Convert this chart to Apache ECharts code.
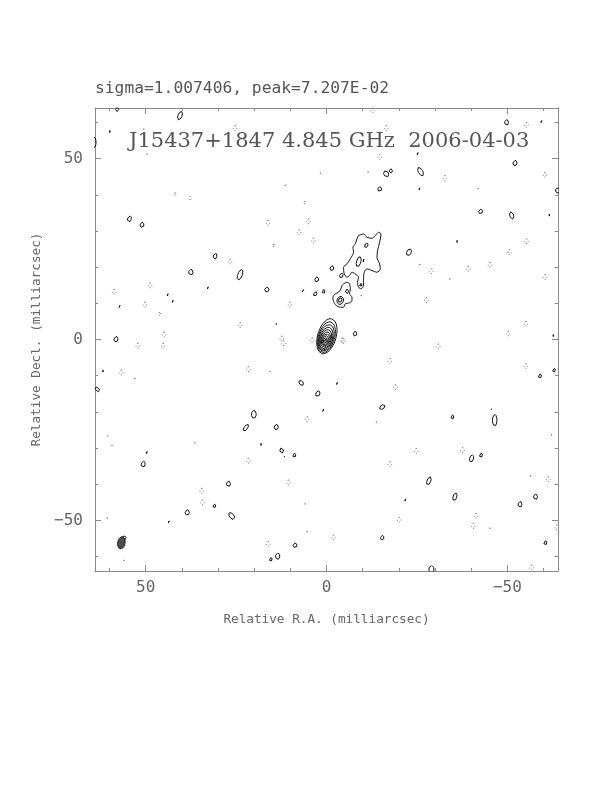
<!DOCTYPE html>
<html><head><meta charset="utf-8">
<script src="https://cdn.jsdelivr.net/npm/echarts@6/dist/echarts.min.js"></script>
<style>html,body{margin:0;padding:0;background:#fff}#c{width:612px;height:792px}</style>
</head><body><div id="c"></div>
<script>
// ---- axis ranges and ticks (milliarcsec) ----
const raMin = -64, raMax = 64;
const decMin = -64, decMax = 64;
const majorTicks = [-50, 0, 50];
const minorTicks = [-60, -50, -40, -30, -20, -10, 0, 10, 20, 30, 40, 50, 60];
const titleText = 'sigma=1.007406, peak=7.207E-02';
const mapLabel = 'J15437+1847 4.845 GHz  2006-04-03';
const xName = 'Relative R.A. (milliarcsec)';
const yName = 'Relative Decl. (milliarcsec)';

// ---- core: nested contours [ra, dec, semiMajor, semiMinor, tiltDeg] ----
const coreContours = [
  [-0.10, 0.90, 5.0, 2.55, 16], [0.00, 0.65, 4.35, 2.25, 16], [0.08, 0.45, 3.75, 2.0, 17],
  [0.15, 0.25, 3.2, 1.75, 17], [0.22, 0.10, 2.7, 1.5, 18], [0.27, -0.02, 2.2, 1.25, 18],
  [0.31, -0.12, 1.75, 1.0, 18], [0.34, -0.20, 1.3, 0.76, 18], [0.36, -0.26, 0.85, 0.5, 18],
  [0.37, -0.28, 0.45, 0.28, 18]
];

// ---- jet outer contours [ra, dec] ----
const jetUpper = [
  [-8.86, 28.73], [-10.25, 29.20], [-11.19, 28.26], [-12.58, 27.98], [-13.49, 28.73],
  [-14.40, 29.64], [-15.07, 29.20], [-14.68, 26.88], [-14.13, 24.59], [-13.96, 22.73],
  [-14.68, 20.91], [-14.88, 19.53], [-13.96, 18.59], [-12.58, 19.06], [-11.19, 19.53],
  [-10.44, 18.59], [-10.25, 16.77], [-10.25, 14.92], [-9.53, 14.01], [-8.86, 14.45],
  [-8.59, 15.83], [-8.86, 17.21], [-7.95, 18.15], [-7.04, 18.59], [-6.37, 17.68],
  [-5.65, 17.21], [-4.90, 18.15], [-4.71, 19.97], [-5.65, 20.91], [-6.57, 22.29],
  [-7.48, 24.12], [-7.31, 25.50], [-7.95, 26.44], [-8.42, 27.82], [-8.86, 28.73]
];
const jetLower = [
  [-4.71, 15.39], [-5.65, 15.83], [-6.37, 15.39], [-6.57, 14.01], [-6.37, 12.62],
  [-7.04, 11.69], [-7.04, 10.77], [-6.37, 10.14], [-5.18, 9.86], [-4.71, 8.92],
  [-3.80, 8.92], [-2.69, 9.39], [-1.94, 10.50], [-1.77, 11.69], [-2.41, 12.62],
  [-3.32, 13.07], [-3.99, 14.01], [-4.27, 14.92], [-4.71, 15.39]
];
// jet inner contours [ra, dec, semiMajor, semiMinor, tiltDeg]
const jetKnots = [
  [-11.0, 26.0, 0.65, 0.45, 30], [-8.9, 21.5, 1.45, 0.6, 15], [-10.3, 21.6, 0.65, 0.14, 0],
  [-9.5, 15.1, 0.45, 0.4, 0], [-5.65, 13.3, 0.65, 0.45, 0], [-3.8, 10.8, 1.15, 0.9, 20],
  [-3.8, 10.9, 0.65, 0.5, 20]
];

// ---- positive noise contours (solid) ----
const posContours = [
  [40.5, 61.9, 1.25, 0.55, 20], [57.9, 63.6, 0.6, 0.45, 0], [59.9, 57.5, 0.3, 0.25, 0],
  [64.6, 54.5, 1.7, 0.9, 0], [54.5, 33.3, 0.9, 0.5, 15], [51.0, 31.7, 0.75, 0.55, 0],
  [30.8, 23.0, 0.85, 0.5, 15], [37.5, 18.6, 0.78, 0.6, 0], [23.9, 17.9, 1.5, 0.62, 20],
  [32.7, 14.2, 0.35, 0.3, 0], [16.5, 13.8, 0.66, 0.6, 0], [43.8, 12.3, 0.35, 0.3, 0],
  [42.4, 10.5, 0.35, 0.3, 0], [57.1, 9.1, 0.35, 0.3, 0], [2.7, 16.6, 0.72, 0.54, 0],
  [6.4, 13.4, 0.4, 0.3, 0], [3.1, 12.6, 0.66, 0.42, 25], [0.8, 13.3, 0.54, 0.42, 0],
  [58.2, 0.1, 0.72, 0.6, 0], [13.9, 4.3, 0.25, 0.25, 0], [-1.5, 19.7, 0.72, 0.54, 0],
  [-4.1, 17.7, 0.72, 0.48, 10], [-7.9, 1.6, 0.72, 0.48, 0],
  [-49.8, 60.0, 0.78, 0.54, 0], [-59.5, 60.2, 0.35, 0.3, 0], [-52.1, 48.8, 0.72, 0.6, 0],
  [-25.3, 51.3, 0.35, 0.3, 0], [-16.5, 45.8, 0.9, 0.66, -30], [-17.8, 46.6, 0.6, 0.48, 0],
  [-26.0, 46.4, 1.3, 0.6, -30], [-14.7, 41.6, 0.66, 0.54, 0], [-25.8, 41.6, 0.35, 0.3, 0],
  [-64.0, 41.2, 0.72, 0.72, 0], [-42.6, 35.4, 0.66, 0.54, 0], [-51.2, 34.3, 1.05, 0.54, -15],
  [-61.6, 34.4, 0.3, 0.3, 0], [-36.1, 27.1, 0.3, 0.3, 0], [-22.8, 24.1, 1.0, 0.6, 25],
  [-62.7, 1.1, 0.3, 0.3, 0],
  [63.3, -13.8, 0.72, 0.54, -40], [61.8, -8.7, 0.3, 0.25, 0], [7.0, -12.0, 0.78, 0.54, -40],
  [2.4, -15.0, 0.84, 0.54, 20], [0.8, -19.6, 0.35, 0.3, 0], [20.1, -20.7, 1.1, 0.66, 0],
  [22.3, -24.4, 1.1, 0.48, 35], [13.9, -24.2, 0.72, 0.6, 0], [18.1, -29.0, 0.3, 0.25, 0],
  [12.4, -30.7, 0.72, 0.54, -20], [8.9, -32.0, 0.54, 0.48, 0], [11.6, -32.4, 0.2, 0.15, 0],
  [49.6, -31.3, 0.35, 0.3, 0], [50.7, -34.5, 0.9, 0.54, 10], [27.1, -39.9, 0.78, 0.54, 0],
  [31.0, -46.0, 0.48, 0.42, 0], [38.5, -47.8, 0.72, 0.6, 0], [26.2, -48.8, 1.1, 0.62, -40],
  [43.5, -50.5, 0.35, 0.3, 0], [8.7, -56.9, 0.66, 0.54, 0], [13.5, -59.9, 0.9, 0.6, 0],
  [15.4, -60.8, 0.48, 0.42, 0], [56.0, -55.0, 0.72, 0.6, 20],
  [-3.0, -12.2, 0.35, 0.3, 0], [-15.4, -18.7, 0.84, 0.54, 60], [-34.8, -21.4, 0.54, 0.42, 0],
  [-46.5, -22.3, 1.6, 0.62, 0], [-45.6, -19.3, 0.2, 0.15, 0], [-59.0, -10.1, 0.54, 0.48, 0],
  [-62.9, -8.5, 0.48, 0.42, 0], [-40.1, -32.9, 1.0, 0.54, 15], [-42.7, -32.0, 0.54, 0.48, 0],
  [-28.3, -39.1, 1.2, 0.52, 20], [-35.5, -43.5, 1.1, 0.52, 15], [-21.9, -44.4, 0.35, 0.3, 0],
  [-57.8, -43.5, 0.78, 0.54, 0], [-53.5, -45.6, 0.78, 0.54, 0], [-15.4, -54.8, 0.66, 0.48, 0],
  [-60.5, -56.2, 0.54, 0.48, 0], [-29.0, -63.5, 1.0, 0.72, 0]
];

// ---- negative noise contours (dotted) [ra, dec, semiMajor, semiMinor] ----
const negContours = [
  [25.3, 58.4, 0.8, 0.5], [50.5, 58.0, 0.3, 0.3], [49.6, 51.1, 0.4, 0.3], [41.9, 40.2, 0.4, 0.4],
  [37.7, 39.0, 0.6, 0.4], [11.4, 42.5, 0.3, 0.3], [16.2, 32.2, 0.8, 0.5], [5.0, 32.6, 0.8, 0.5],
  [7.6, 29.6, 0.8, 0.5], [3.6, 27.3, 0.8, 0.5], [6.1, 37.8, 0.4, 0.4], [1.7, 45.8, 0.3, 0.3],
  [26.7, 21.5, 0.8, 0.5], [14.7, 26.0, 0.4, 0.4], [58.7, 13.1, 0.8, 0.5], [48.8, 14.9, 0.8, 0.5],
  [50.2, 9.6, 0.8, 0.5], [46.1, 7.1, 0.5, 0.4], [23.9, 3.9, 0.8, 0.5], [10.1, 9.6, 0.8, 0.5],
  [44.9, 1.3, 0.8, 0.5], [12.4, 0.2, 0.8, 0.5], [4.0, -0.3, 0.8, 0.5], [-4.3, -0.3, 0.8, 0.5],
  [-12.8, 63.3, 0.8, 0.5], [-16.5, 58.4, 0.8, 0.5], [-55.3, 59.3, 0.8, 0.5], [-14.7, 50.4, 0.8, 0.5],
  [-11.5, 46.2, 0.3, 0.3], [-32.7, 44.6, 0.8, 0.5], [-60.4, 45.5, 0.8, 0.5], [-41.9, 41.6, 0.3, 0.3],
  [-55.3, 27.1, 0.8, 0.5], [-50.5, 24.1, 0.8, 0.5], [-29.0, 18.8, 0.8, 0.5], [-39.2, 19.5, 0.8, 0.5],
  [-45.2, 20.6, 0.8, 0.5], [-34.1, 16.6, 0.3, 0.3], [-60.4, 17.2, 0.8, 0.5], [-27.6, 10.8, 0.8, 0.5],
  [-55.1, 4.3, 0.8, 0.5], [-50.2, 1.6, 0.8, 0.5], [-9.6, 12.0, 0.3, 0.3], [-25.8, 20.6, 0.3, 0.3],
  [52.2, -1.8, 0.8, 0.5], [45.2, -1.8, 0.8, 0.5], [11.9, -1.1, 0.8, 0.5], [56.7, -9.2, 0.8, 0.5],
  [53.0, -10.9, 0.3, 0.3], [21.6, -8.3, 0.8, 0.5], [15.6, -9.0, 0.3, 0.3], [60.4, -26.7, 0.4, 0.3],
  [59.3, -29.5, 0.3, 0.3], [36.4, -28.7, 0.3, 0.3], [21.6, -33.6, 0.8, 0.5], [5.4, -22.1, 0.8, 0.5],
  [10.5, -39.6, 0.8, 0.5], [34.5, -41.9, 0.8, 0.5], [34.3, -45.1, 0.8, 0.5], [5.9, -45.6, 0.3, 0.3],
  [60.6, -49.5, 0.3, 0.3], [5.4, -53.2, 0.3, 0.3], [16.1, -56.6, 0.8, 0.5], [56.0, -61.2, 0.3, 0.3],
  [-4.7, -0.5, 0.8, 0.5], [-30.9, -2.0, 0.8, 0.5], [-17.5, -6.0, 0.8, 0.5], [-55.1, -7.4, 0.8, 0.5],
  [-19.1, -13.3, 0.8, 0.5], [-13.8, -23.0, 0.3, 0.3], [-24.8, -30.9, 0.8, 0.5], [-37.6, -30.6, 0.8, 0.5],
  [-17.5, -34.5, 0.8, 0.5], [-62.2, -26.5, 0.3, 0.3], [-56.4, -37.8, 0.3, 0.3], [-61.3, -38.7, 0.8, 0.5],
  [-41.3, -48.8, 0.8, 0.5], [-40.6, -51.6, 0.8, 0.5], [-45.2, -52.3, 0.3, 0.3], [-20.1, -49.9, 0.8, 0.5],
  [-1.9, -54.8, 0.8, 0.5], [-63.6, -52.0, 0.8, 0.5], [-56.7, -63.1, 0.8, 0.5]
];

// ---- restoring beam [ra, dec, semiMajor, semiMinor, tiltDeg] ----
const beam = [56.7, -56.2, 1.66, 1.0, 10];

// ellipse outline in data space (mas)
function ellipse(c, n) {
  const x0 = c[0], y0 = c[1], a = c[2], b = c[3], t = (c[4] || 0) * Math.PI / 180;
  const ux = -Math.sin(t), uy = Math.cos(t), vx = Math.cos(t), vy = Math.sin(t);
  const pts = [];
  for (let i = 0; i <= n; i++) {
    const th = 2 * Math.PI * i / n;
    const ca = Math.cos(th) * a, sb = Math.sin(th) * b;
    pts.push([x0 + ca * ux + sb * vx, y0 + ca * uy + sb * vy]);
  }
  return pts;
}

const solid = { color: '#111', width: 1 };
const dotted = { color: '#777', width: 1, type: [1, 2.2] };
function lineSeries(pts, style, smooth) {
  return { type: 'line', data: pts, showSymbol: false, symbol: 'none', smooth: smooth || false,
    lineStyle: style, silent: true, animation: false, clip: true, z: 3 };
}

const series = [];
coreContours.forEach(c => series.push(lineSeries(ellipse(c, 48), { color: '#1a1a1a', width: 1 })));
series.push(lineSeries(jetUpper, solid, 0.25));
series.push(lineSeries(jetLower, solid, 0.25));
jetKnots.forEach(c => series.push(lineSeries(ellipse(c, 28), solid)));
posContours.forEach(c => series.push(lineSeries(ellipse(c, 24), solid)));
negContours.forEach(c => series.push(lineSeries(ellipse(c, 16), dotted)));
series.push({
  type: 'custom', silent: true, animation: false, clip: true, z: 4,
  dimensions: ['ra', 'dec', 'a', 'b', 't'], encode: { x: 0, y: 1 },
  data: [beam],
  renderItem: function (params, api) {
    const pts = ellipse([api.value(0), api.value(1), api.value(2), api.value(3), api.value(4)], 40)
      .map(p => api.coord(p));
    return { type: 'polygon', shape: { points: pts }, style: { fill: '#4d4d4d', stroke: '#111', lineWidth: 1 } };
  }
});

const monoFont = '"DejaVu Sans Mono", "Liberation Mono", monospace';
const frameColor = '#8a8a8a';
const textColor = '#666';
const fmt = v => (v < 0 ? '\u2212' + Math.abs(v) : String(v));

function axisSet(isX) {
  const base = { type: 'value', min: isX ? raMin : decMin, max: isX ? raMax : decMax,
    inverse: isX, splitLine: { show: false } };
  const pos = isX ? ['bottom', 'top'] : ['left', 'right'];
  const out = [];
  pos.forEach((p, i) => {
    out.push(Object.assign({}, base, {
      position: p,
      axisLine: { show: true, onZero: false, lineStyle: { color: frameColor, width: 1 } },
      axisTick: { show: true, inside: true, length: 6, customValues: majorTicks, lineStyle: { color: frameColor } },
      axisLabel: i === 0 ? { show: true, customValues: majorTicks, formatter: fmt, margin: isX ? 9 : 12,
        fontFamily: monoFont, fontSize: 16, color: textColor } : { show: false },
      name: i === 0 ? (isX ? xName : yName) : '',
      nameLocation: 'middle', nameGap: isX ? 42 : 41,
      nameTextStyle: { fontFamily: monoFont, fontSize: 12.7, color: textColor }
    }));
    out.push(Object.assign({}, base, {
      position: p,
      axisLine: { show: false, onZero: false },
      axisTick: { show: true, inside: true, length: 3, customValues: minorTicks, lineStyle: { color: frameColor } },
      axisLabel: { show: false }
    }));
  });
  return out;
}

const chart = echarts.init(document.getElementById('c'), null, { renderer: 'canvas' });
chart.setOption({
  animation: false,
  backgroundColor: '#fff',
  grid: { left: 95, right: 54, top: 108, bottom: 221, containLabel: false },
  xAxis: axisSet(true),
  yAxis: axisSet(false),
  series: series,
  graphic: [
    { type: 'text', x: 95, y: 89, z: 10,
      style: { text: titleText, font: '16.3px "DejaVu Sans Mono"', fill: '#555', textAlign: 'left', textVerticalAlign: 'middle' } },
    { type: 'text', x: 129, y: 142, z: 10,
      style: { text: mapLabel, font: '21px "DejaVu Serif"', fill: '#555', textAlign: 'left', textVerticalAlign: 'middle' } }
  ]
});
</script>
</body></html>
